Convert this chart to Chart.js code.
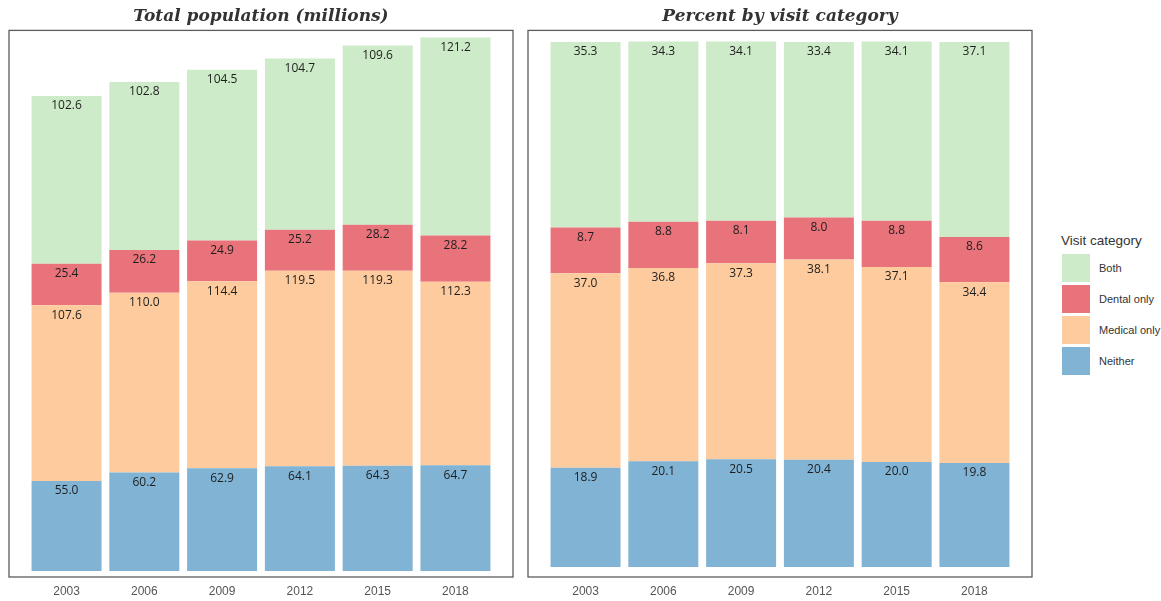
<!DOCTYPE html>
<html>
<head>
<meta charset="utf-8">
<script src="https://cdn.jsdelivr.net/npm/chart.js@4.4.0/dist/chart.umd.min.js"></script>
<style>
  html, body { margin: 0; padding: 0; background: #fff; width: 1161px; height: 601px; overflow: hidden; }
  .box { position: absolute; top: 0; width: 520px; height: 601px; }
  #legend { position: absolute; left: 1061px; top: 232px; font-family: "Liberation Sans", Arial, sans-serif; color: #333; }
  #legend .ttl { font-size: 13.5px; height: 20px; line-height: 18px; margin-bottom: 2px; }
  #legend .item { position: relative; height: 31px; }
  #legend .key { position: absolute; left: 1px; top: 0; width: 28px; height: 28px; }
  #legend .lab { position: absolute; left: 38px; top: 8px; font-size: 11px; line-height: 13px; white-space: nowrap; }
</style>
</head>
<body>
<div class="box" style="left:0px"><canvas id="c1"></canvas></div>
<div class="box" style="left:520px"><canvas id="c2"></canvas></div>
<div id="legend"></div>
<script>
const years = ["2003", "2006", "2009", "2012", "2015", "2018"];
const categories = ["Neither", "Medical only", "Dental only", "Both"];
const colors = ["#80B3D4", "#FDCB9D", "#E8737A", "#CDEBC8"];

// Total population (millions)
const totNeither = [55.0, 60.2, 62.9, 64.1, 64.3, 64.7];
const totMedical = [107.6, 110.0, 114.4, 119.5, 119.3, 112.3];
const totDental  = [25.4, 26.2, 24.9, 25.2, 28.2, 28.2];
const totBoth    = [102.6, 102.8, 104.5, 104.7, 109.6, 121.2];

// Percent by visit category
const pctNeither = [18.9, 20.1, 20.5, 20.4, 20.0, 19.8];
const pctMedical = [37.0, 36.8, 37.3, 38.1, 37.1, 34.4];
const pctDental  = [8.7, 8.8, 8.1, 8.0, 8.8, 8.6];
const pctBoth    = [35.3, 34.3, 34.1, 33.4, 34.1, 37.1];

const labelPlugin = {
  id: 'segLabels',
  afterDatasetsDraw(chart) {
    const ctx = chart.ctx;
    ctx.save();
    ctx.font = '12px "Open Sans", "Noto Sans", sans-serif';
    ctx.fillStyle = '#1e1e1e';
    ctx.textAlign = 'center';
    ctx.textBaseline = 'middle';
    chart.data.datasets.forEach((ds, di) => {
      const meta = chart.getDatasetMeta(di);
      meta.data.forEach((el, i) => {
        const v = ds.data[i].y;
        ctx.fillText(v.toFixed(1), el.x, el.y + 10);
      });
    });
    ctx.restore();
  }
};

const borderPlugin = {
  id: 'panelBorder',
  afterDraw(chart) {
    const a = chart.chartArea;
    const ctx = chart.ctx;
    ctx.save();
    ctx.strokeStyle = '#5c5c5c';
    ctx.lineWidth = 1.3;
    ctx.strokeRect(a.left, a.top, a.right - a.left, a.bottom - a.top);
    ctx.restore();
  }
};

function makeChart(id, title, series, ymin, ymax, pad) {
  const datasets = series.map((arr, k) => ({
    label: categories[k],
    data: arr.map((v, i) => ({ x: i, y: v })),
    backgroundColor: colors[k],
    borderWidth: 0,
    categoryPercentage: 1.0,
    barPercentage: 0.9
  }));
  return new Chart(document.getElementById(id), {
    type: 'bar',
    data: { datasets },
    plugins: [labelPlugin, borderPlugin],
    options: {
      responsive: true,
      maintainAspectRatio: false,
      animation: false,
      layout: { padding: { left: pad[0], right: pad[1], top: 0, bottom: 0 } },
      plugins: {
        legend: { display: false },
        tooltip: { enabled: false },
        title: {
          display: true,
          text: title,
          color: '#333',
          font: { family: '"DejaVu Serif", Georgia, serif', size: 17, weight: 'bold', style: 'italic', lineHeight: 1.2 },
          padding: { top: 6, bottom: 4 }
        }
      },
      scales: {
        x: {
          type: 'linear',
          stacked: true,
          offset: false,
          min: -0.74,
          max: 5.74,
          grid: { display: false, drawTicks: false, offset: false },
          border: { display: false },
          afterFit(scale) { scale.height = 24; },
          ticks: {
            stepSize: 1,
            includeBounds: false,
            autoSkip: false,
            maxRotation: 0,
            padding: 7,
            color: '#555',
            font: { family: '"Liberation Sans", Arial, sans-serif', size: 12 },
            callback(v) { return Number.isInteger(v) && years[v] !== undefined ? years[v] : ''; }
          }
        },
        y: {
          stacked: true,
          display: false,
          min: ymin,
          max: ymax
        }
      }
    }
  });
}

makeChart('c1', 'Total population (millions)', [totNeither, totMedical, totDental, totBoth], -3.7, 330.7, [9, 7]);
makeChart('c2', 'Percent by visit category', [pctNeither, pctMedical, pctDental, pctBoth], -1.9, 102.1, [8, 8]);

// Legend (top to bottom: Both, Dental only, Medical only, Neither)
const lg = document.getElementById('legend');
const t = document.createElement('div');
t.className = 'ttl';
t.textContent = 'Visit category';
lg.appendChild(t);
for (let k = categories.length - 1; k >= 0; k--) {
  const it = document.createElement('div');
  it.className = 'item';
  const key = document.createElement('div');
  key.className = 'key';
  key.style.background = colors[k];
  const lab = document.createElement('div');
  lab.className = 'lab';
  lab.textContent = categories[k];
  it.appendChild(key);
  it.appendChild(lab);
  lg.appendChild(it);
}
</script>
</body>
</html>
